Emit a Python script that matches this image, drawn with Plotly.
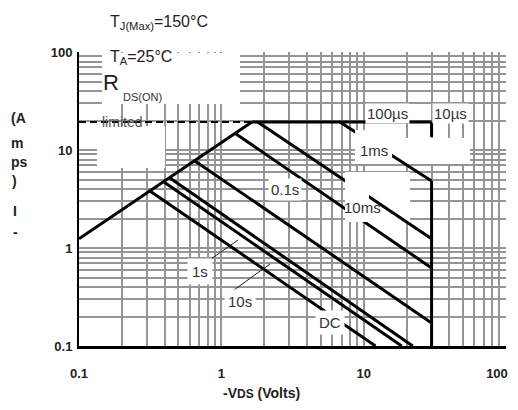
import plotly.graph_objects as go

# ---- data (-VDS in volts, -ID in amps) ----
rds_v = [0.1, 1.64]
rds_i = [1.24, 19.3]
limit_v = [0.1, 1.64]
limit_i = [19.3, 19.3]
top_v = [1.64, 30]
top_i = [19.3, 19.3]
us10_v = [30, 30]
us10_i = [19.3, 13.6]
us100_v = [6.8, 30]
us100_i = [19.3, 4.83]
ms1_v = [1.80, 30]
ms1_i = [19.3, 1.24]
ms10_v = [1.24, 30]
ms10_i = [14.9, 0.625]
s01_v = [0.652, 30]
s01_i = [7.73, 0.172]
s1_v = [0.435, 22.1]
s1_i = [5.18, 0.1]
s10_v = [0.395, 18.5]
s10_i = [4.71, 0.1]
dc_v = [0.315, 12.1]
dc_i = [3.82, 0.1]
vmax_v = [30, 30]
vmax_i = [4.83, 0.1]

tick_vals = [d * 10 ** e for e in (-1, 0, 1) for d in range(1, 10)] + [100]
y_tick_text = ["0.1", "", "", "", "", "", "", "", "",
               "1", "", "", "", "", "", "", "", "",
               "10", "", "", "", "", "", "", "", "", "100"]
# last x label padded so it sits just inside the right edge, as in the reference
x_tick_text = y_tick_text[:-1] + ["100" + "\u00a0" * 5]

# the page puts the figure 8px in from the window's top-left corner
OFF = 8
W, H = 518 - 2 * OFF, 410 - 2 * OFF
PL, PT, PR, PB = 79, 52, 506, 346          # plot area in window pixels
L, T = PL - OFF, PT - OFF
R, B = W - (PR - OFF), H - (PB - OFF)
PW, PH = PR - PL, PB - PT


def px(x):
    return (x - PL) / PW


def py(y):
    return (PB - y) / PH


def dx(x):  # window pixel -> x data value (log axis, 0.1..100)
    return 10 ** (-1 + 3 * px(x))


def dy(y):
    return 10 ** (-1 + 3 * py(y))


FONT = "Liberation Sans, Arial, sans-serif"
fig = go.Figure()

solid = [(rds_v, rds_i), (top_v, top_i), (us10_v, us10_i), (us100_v, us100_i),
         (ms1_v, ms1_i), (ms10_v, ms10_i), (s01_v, s01_i), (s1_v, s1_i),
         (s10_v, s10_i), (dc_v, dc_i), (vmax_v, vmax_i)]
for xs, ys in solid:
    fig.add_trace(go.Scatter(x=xs, y=ys, mode="lines",
                             line=dict(color="black", width=3),
                             showlegend=False, hoverinfo="skip"))
fig.add_trace(go.Scatter(x=limit_v, y=limit_i, mode="lines",
                         line=dict(color="black", width=2, dash="7px,4px"),
                         showlegend=False, hoverinfo="skip"))

axis_common = dict(type="log", range=[-1, 2], tickvals=tick_vals,
                   showgrid=True, gridcolor="#959595", gridwidth=1.6,
                   ticks="", zeroline=False, automargin=False,
                   ticklabeloverflow="allow",
                   tickfont=dict(family=FONT, size=13, color="#222", weight="bold"))
fig.update_xaxes(**axis_common, ticktext=x_tick_text, showline=True,
                 linecolor="black", linewidth=2.5, ticklabelstandoff=14)
fig.update_yaxes(**axis_common, ticktext=y_tick_text, showline=True,
                 linecolor="black", linewidth=2, ticklabelstandoff=2)

shapes = []
# white patches that hide the grid (drawn between grid and curves)
for x0, y0, x1, y1 in [(102, 53, 240, 104), (97, 126, 165, 168), (345, 172, 410, 222),
                       (355, 138, 470, 164)]:
    shapes.append(dict(type="rect", xref="x", yref="y",
                       x0=dx(x0), x1=dx(x1), y0=dy(y1), y1=dy(y0),
                       fillcolor="white", line=dict(width=0), layer="between"))
# white label boxes that also hide curves
for x0, y0, x1, y1 in [(355, 130, 392, 160), (345, 178, 369, 222)]:
    shapes.append(dict(type="rect", xref="paper", yref="paper",
                       x0=px(x0), x1=px(x1), y0=py(y1), y1=py(y0),
                       fillcolor="white", line=dict(width=0), layer="above"))
# leader lines
for x0, y0, x1, y1 in [(211, 259, 238, 240), (234, 290, 270, 264)]:
    shapes.append(dict(type="line", xref="paper", yref="paper",
                       x0=px(x0), x1=px(x1), y0=py(y0), y1=py(y1),
                       line=dict(color="#222", width=1), layer="above"))

ann = []


def text(t, x, y, size=15, anchor="center", bold=False, bg=None, color="#333", pad=1):
    d = dict(text=t, x=px(x), y=py(y), xref="paper", yref="paper",
             showarrow=False, xanchor=anchor, yanchor="middle",
             font=dict(family=FONT, size=size, color=color,
                       weight="bold" if bold else "normal"),
             borderpad=pad)
    if bg:
        d["bgcolor"] = bg
    ann.append(d)


text("T<sub>J(Max)</sub>=150°C", 108, 22, size=16, anchor="left", color="#222")
text("T<sub>A</sub>=25°C", 108, 57, size=16, anchor="left", color="#222")
text("R", 101, 82, size=22, anchor="left", color="#222")
text("DS(ON)", 121, 97, size=11, anchor="left", color="#333")
text("limited", 100, 122, size=14, anchor="left", color="#555")

text("100µs", 387, 113, bg="white")
text("10µs", 450, 113, bg="white")
text("1ms", 374, 150)
text("0.1s", 285, 189, bg="white", pad=2)
text("10ms", 362, 208)
text("1s", 200, 271, bg="white", pad=4)
text("10s", 240, 301, bg="white", pad=3)
text("DC", 330, 322, bg="white", pad=3)

for t, x, y, a in [("(A", 9, 118, "left"), ("m", 9, 143, "left"), ("ps", 9, 162, "left"),
                   (")", 10, 181, "left"), ("I", 15, 211, "center"), ("-", 15, 232, "center")]:
    text(t, x, y, size=14, anchor=a, bold=True, color="#222")

text("-V<span style='font-size:12px'>DS</span> (Volts)", 261, 393, size=14,
     bold=True, color="#222")

fig.update_layout(width=W, height=H, margin=dict(l=L, r=R, t=T, b=B),
                  plot_bgcolor="white", paper_bgcolor="white",
                  shapes=shapes, annotations=ann, showlegend=False)

fig.write_html("out.html")
